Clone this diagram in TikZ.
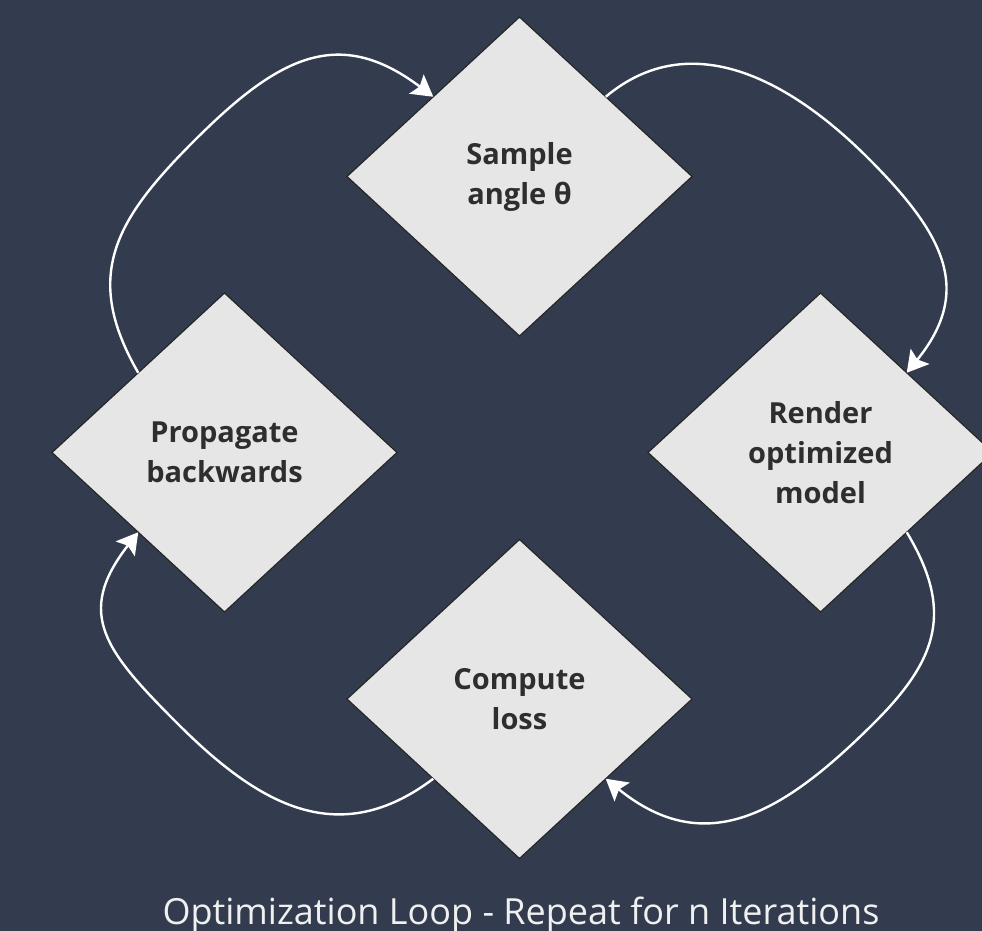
\documentclass[tikz,border=0pt]{standalone}
\usepackage{fontspec}
\setmainfont{Open Sans}
\usetikzlibrary{shapes.geometric,arrows.meta,calc}
\definecolor{bg}{HTML}{333C4F}
\definecolor{boxfill}{HTML}{E6E6E6}
\definecolor{boxtext}{HTML}{2E2E2E}
\definecolor{loopline}{HTML}{FFFFFF}
\definecolor{titletext}{HTML}{F0F0F0}
\begin{document}
\begin{tikzpicture}[x=1pt,y=1pt,
  stepbox/.style={diamond, draw=black!85, line width=1.2pt, fill=boxfill,
    minimum width=345pt, minimum height=319pt, inner sep=0pt, outer sep=0pt,
    text=boxtext, align=center, font=\fontsize{29}{40}\selectfont\bfseries},
  looparrow/.style={draw=loopline, line width=2.4pt,
    -{Stealth[length=21pt,width=24pt,inset=4pt]}},
  ]
\useasboundingbox (0,0) rectangle (982,-931);
\fill[bg] (0,0) rectangle (982,-931);

% the four steps of the loop
\node[stepbox] (T) at (519.5,-176.5) {Sample\\angle θ};
\node[stepbox] (R) at (820.5,-452.5) {Render\\optimized\\model};
\node[stepbox] (B) at (519.5,-699) {Compute\\loss};
\node[stepbox] (L) at (224.5,-452.5) {Propagate\\backwards};

% midpoints of the edges where the connectors meet the steps
\coordinate (Tnw) at ($(T.north)!.5!(T.west)$);
\coordinate (Tne) at ($(T.north)!.5!(T.east)$);
\coordinate (Rne) at ($(R.north)!.5!(R.east)$);
\coordinate (Rse) at ($(R.south)!.5!(R.east)$);
\coordinate (Bse) at ($(B.south)!.5!(B.east)$);
\coordinate (Bsw) at ($(B.south)!.5!(B.west)$);
\coordinate (Lsw) at ($(L.south)!.5!(L.west)$);
\coordinate (Lnw) at ($(L.north)!.5!(L.west)$);

% outermost points of the bends
\coordinate (bendTL) at (194,-141);
\coordinate (bendTR) at (868,-158);
\coordinate (bendBR) at (875,-722);
\coordinate (bendBL) at (178,-724);

% loop connectors
\draw[looparrow] (Lnw) to[out=120,in=225,looseness=1.2] (bendTL)
                       to[out=45,in=143,looseness=1.25] (Tnw);
\draw[looparrow] (Tne) to[out=40,in=135,looseness=1.05] (bendTR)
                       to[out=-45,in=51,looseness=1.25] (Rne);
\draw[looparrow] (Rse) to[out=-59,in=45,looseness=1.2] (bendBR)
                       to[out=-135,in=-39,looseness=1.2] (Bse);
\draw[looparrow] (Bsw) to[out=-143,in=-45,looseness=1.15] (bendBL)
                       to[out=135,in=-128,looseness=1.35] (Lsw);

% caption
\node[text=titletext, font=\fontsize{36}{43}\selectfont, anchor=base,
      inner sep=0pt] (title) at (521,-924) {Optimization Loop - Repeat for n Iterations};
\end{tikzpicture}
\end{document}
